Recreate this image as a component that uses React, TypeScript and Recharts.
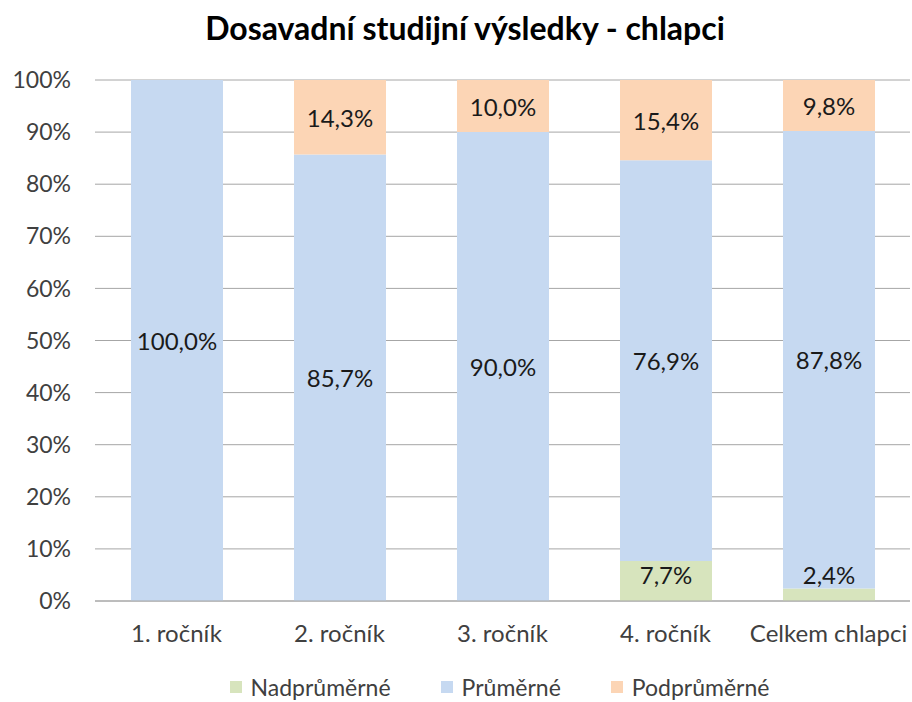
import React from "react"
import { BarChart, Bar, XAxis, YAxis, CartesianGrid, LabelList } from "recharts"

const categories = ["1. ročník", "2. ročník", "3. ročník", "4. ročník", "Celkem chlapci"]
const nadprumerne = [0, 0, 0, 7.7, 2.4]
const prumerne = [100, 85.7, 90.0, 76.9, 87.8]
const podprumerne = [0, 14.3, 10.0, 15.4, 9.8]
const yTicks = [0, 10, 20, 30, 40, 50, 60, 70, 80, 90, 100]

const series = [
  { key: "nad", name: "Nadprůměrné", color: "#d7e4bd" },
  { key: "pru", name: "Průměrné", color: "#c6d9f1" },
  { key: "pod", name: "Podprůměrné", color: "#fcd5b5" },
]

const data = categories.map((c, i) => ({
  name: c,
  nad: nadprumerne[i],
  pru: prumerne[i],
  pod: podprumerne[i],
}))

const font = "Lato, 'Open Sans', sans-serif"
const PLOT_BOTTOM = 601

const fmt = (v: any) => (v ? v.toFixed(1).replace(".", ",") + "%" : "")

// excel keeps tiny bottom labels clear of the axis
const SegLabel = (props: any) => {
  const { x, y, width, height, value } = props
  const txt = fmt(value)
  if (!txt) return null
  const cy = Math.min(y + height / 2, PLOT_BOTTOM - 27)
  return (
    <text
      x={x + width / 2}
      y={cy}
      textAnchor="middle"
      dominantBaseline="central"
      fontFamily={font}
      fontSize={24}
      fill="#1a1a1a"
    >
      {txt}
    </text>
  )
}

const Legend = () => (
  <div
    style={{
      position: "absolute",
      top: 674,
      left: 92,
      width: 815,
      display: "flex",
      justifyContent: "center",
      gap: 50,
      fontFamily: font,
      fontSize: 23,
      lineHeight: "26px",
      color: "#404040",
    }}
  >
    {series.map((s) => (
      <div key={s.key} style={{ display: "flex", alignItems: "center" }}>
        <span style={{ width: 12, height: 12, background: s.color, marginRight: 9, display: "inline-block" }} />
        {s.name}
      </div>
    ))}
  </div>
)

export default function App() {
  return (
    <div style={{ position: "absolute", left: 0, top: 0, width: 912, height: 702, background: "#fff", overflow: "hidden" }}>
      <div
        style={{
          position: "absolute",
          top: 8,
          left: 0,
          width: 930,
          textAlign: "center",
          fontFamily: font,
          fontWeight: "bold",
          fontSize: 32,
          color: "#000",
        }}
      >
        Dosavadní studijní výsledky - chlapci
      </div>
      <BarChart
        width={912}
        height={702}
        data={data}
        margin={{ top: 80, right: 2, left: 0, bottom: 41 }}
        stackOffset="expand"
      >
        <CartesianGrid vertical={false} stroke="#a6a6a6" />
        <XAxis
          dataKey="name"
          tickLine={false}
          tickSize={0}
          tickMargin={24}
          height={60}
          axisLine={{ stroke: "#a6a6a6" }}
          tick={{ fontFamily: font, fontSize: 24, fill: "#404040" }}
        />
        <YAxis
          width={95}
          ticks={yTicks.map((t) => t / 100)}
          domain={[0, 1]}
          tickFormatter={(v: number) => Math.round(v * 100) + "%"}
          axisLine={false}
          tickLine={false}
          tickSize={0}
          tickMargin={24}
          tick={{ fontFamily: font, fontSize: 23, fill: "#404040" }}
        />
        {series.map((s) => (
          <Bar key={s.key} dataKey={s.key} stackId="a" fill={s.color} barSize={92} isAnimationActive={false}>
            <LabelList dataKey={s.key} content={<SegLabel />} />
          </Bar>
        ))}
      </BarChart>
      <Legend />
    </div>
  )
}
